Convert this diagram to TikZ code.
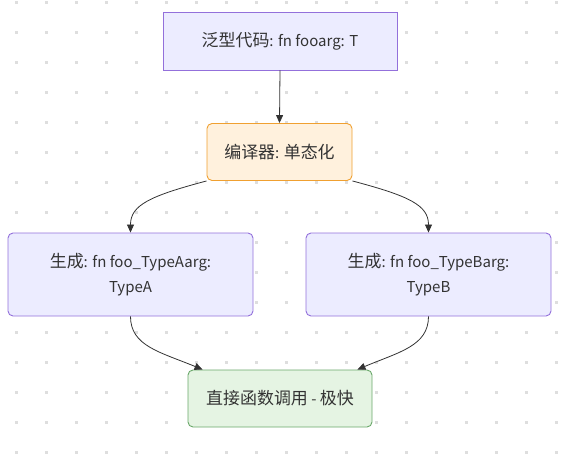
\documentclass[tikz,border=0pt]{standalone}
\usepackage{fontspec}
\setmainfont{Noto Sans CJK SC}
\newfontfamily\cjk{Noto Sans CJK SC}[Scale=1.13]
\usetikzlibrary{arrows.meta}
\definecolor{txt}{HTML}{333333}
\definecolor{lav}{HTML}{ECECFF}
\definecolor{purp}{HTML}{9370DB}
\definecolor{orfill}{HTML}{FFF1DD}
\definecolor{orline}{HTML}{F0A030}
\definecolor{grfill}{HTML}{E5F4E3}
\definecolor{grline}{HTML}{6AA86A}
\definecolor{dotc}{HTML}{DEDEDE}
\definecolor{edge}{HTML}{333333}
\tikzset{
  box/.style={draw=purp, fill=lav, line width=0.9pt, text=txt, align=center, inner sep=0pt, font=\fontsize{15}{25}\selectfont},
  roundbox/.style={box, rounded corners=5pt},
  orbox/.style={roundbox, draw=orline, fill=orfill},
  grbox/.style={roundbox, draw=grline, fill=grfill},
  conn/.style={draw=edge, line width=0.8pt, -{Triangle[length=8pt,width=7pt]}},
}
\begin{document}
\begin{tikzpicture}[x=1pt,y=-1pt]
\useasboundingbox (0,0) rectangle (566,455);
\foreach \i in {0,...,18} {
  \foreach \j in {0,...,15} {
    \fill[dotc] ({16+30*\i-1.5},{2+30*\j-1.5}) rectangle ++(3,3);
  }
}
\node[box, minimum width=234pt, minimum height=58pt] (top) at (280,41) {{\cjk 泛型代码}: fn fooarg: T};
\node[orbox, minimum width=145pt, minimum height=57pt] (comp) at (279.5,152) {{\cjk 编译器}: {\cjk 单态化}};
\node[roundbox, minimum width=245pt, minimum height=83pt] (la) at (130.5,274.5) {{\cjk 生成}: fn foo\_TypeAarg:\\TypeA};
\node[roundbox, minimum width=245pt, minimum height=83pt] (lb) at (428.5,274.5) {{\cjk 生成}: fn foo\_TypeBarg:\\TypeB};
\node[grbox, minimum width=184pt, minimum height=57pt] (fin) at (280,398.5) {{\cjk 直接函数调用} - {\cjk 极快}};
\draw[conn] (top.south) -- (comp.north);
\draw[conn] (comp.south west) .. controls (150,196) and (130.5,205) .. (la.north);
\draw[conn] (comp.south east) .. controls (409,196) and (428.5,205) .. (lb.north);
\draw[conn] (la.south) .. controls (130.5,346) and (160,352) .. ([xshift=15pt]fin.north west);
\draw[conn] (lb.south) .. controls (428.5,346) and (399,352) .. ([xshift=-15pt]fin.north east);
\end{tikzpicture}
\end{document}
